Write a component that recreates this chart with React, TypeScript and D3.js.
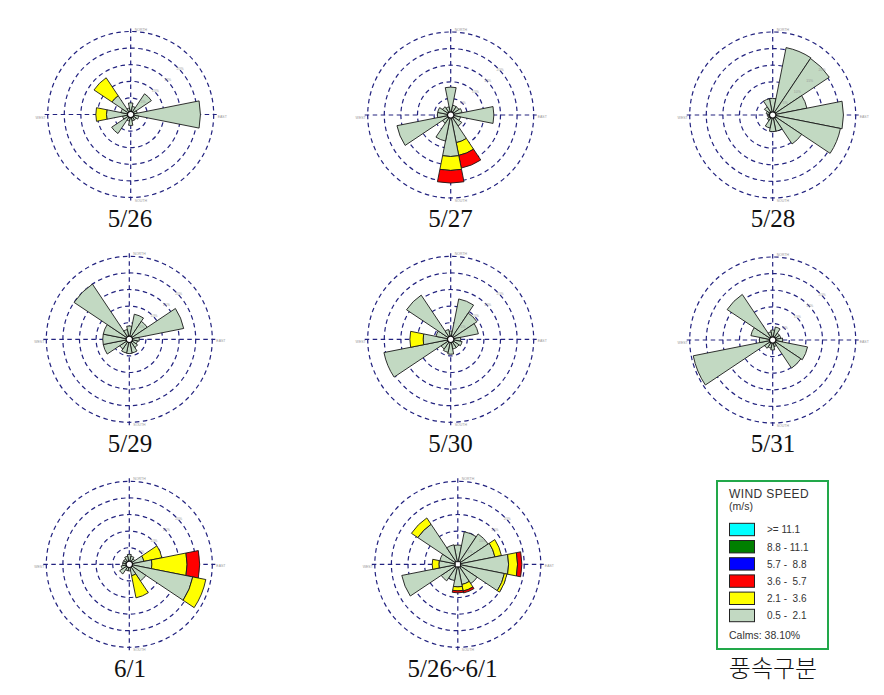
import React from "react";
import * as d3 from "d3";

// Direction order: N, NNE, NE, ENE, E, ESE, SE, SSE, S, SSW, SW, WSW, W, WNW, NW, NNW
const directions = ["N", "NNE", "NE", "ENE", "E", "ESE", "SE", "SSE", "S", "SSW", "SW", "WSW", "W", "WNW", "NW", "NNW"];

const speedClasses = [">= 11.1", "8.8 - 11.1", "5.7 -  8.8", "3.6 -  5.7", "2.1 -  3.6", "0.5 -  2.1"];
const speedColors = ["#00ffff", "#007f00", "#0000ff", "#ff0000", "#ffff00", "#c2d9c2"];
const calmsText = "Calms: 38.10%";
const ringValues = [5, 10, 15, 20, 25];
const ringLabels = ["5%", "10%", "15%", "20%", "25%"];
const axisNames = ["NORTH", "EAST", "SOUTH", "WEST"];

// frequencies (%) per direction for speed class 0.5-2.1 (low), 2.1-3.6 (mid), 3.6-5.7 (high)
const may26Low = [3.5, 2.5, 7.5, 2, 21, 2.5, 2, 2, 3.3, 2, 6.9, 2.5, 7.3, 3, 6.8, 2];
const may26Mid = [0, 0, 0, 0, 0, 0, 0, 0, 0, 0, 0, 0, 3.2, 0, 6.5, 0];
const may26High = [0, 0, 0, 0, 0, 0, 0, 0, 0, 0, 0, 0, 0, 0, 0, 0];

const may27Low = [8.4, 3, 3, 3.5, 13, 3, 4, 8.5, 12.5, 8, 3, 16.5, 4, 4, 3, 2.5];
const may27Mid = [0, 0, 0, 0, 0, 0, 0, 3.9, 4.2, 0, 0, 0, 0, 0, 0, 0];
const may27High = [0, 0, 0, 0, 0, 0, 0, 3.9, 3.8, 0, 0, 0, 0, 0, 0, 0];

const may28Low = [5, 20.7, 20.5, 10.5, 21.3, 20.8, 10.5, 5, 5, 4, 2, 1.5, 1.5, 2, 3, 5];
const may28Mid = [0, 0, 0, 0, 0, 0, 0, 0, 0, 0, 0, 0, 0, 0, 0, 0];
const may28High = [0, 0, 0, 0, 0, 0, 0, 0, 0, 0, 0, 0, 0, 0, 0, 0];

const may29Low = [4, 7.7, 6.5, 16.7, 3, 2.5, 3, 4.2, 4.3, 4.2, 3.5, 8, 8, 8, 20, 3];
const may29Mid = [0, 0, 0, 0, 0, 0, 0, 0, 0, 0, 0, 0, 0, 0, 0, 0];
const may29High = [0, 0, 0, 0, 0, 0, 0, 0, 0, 0, 0, 0, 0, 0, 0, 0];

const may30Low = [2.5, 12.4, 9.5, 8.5, 3, 3.5, 3, 3, 4.5, 4, 3.5, 20.5, 8.3, 4.5, 16, 3];
const may30Mid = [0, 0, 0, 0, 0, 0, 0, 0, 0, 0, 0, 0, 4, 0, 0, 0];
const may30High = [0, 0, 0, 0, 0, 0, 0, 0, 0, 0, 0, 0, 0, 0, 0, 0];

const may31Low = [3, 4, 2.5, 2.5, 3, 10.7, 10.2, 2, 3, 2.5, 3, 24.4, 4, 6.7, 16.5, 2.5];
const may31Mid = [0, 0, 0, 0, 0, 0, 0, 0, 0, 0, 0, 0, 0, 0, 0, 0];
const may31High = [0, 0, 0, 0, 0, 0, 0, 0, 0, 0, 0, 0, 0, 0, 0, 0];

const jun1Low = [3, 2.5, 2, 4.5, 6.8, 19.5, 6, 3.5, 2, 2, 3.5, 2.5, 2, 2, 2, 2.5];
const jun1Mid = [0, 0, 0, 5.5, 10.6, 4, 0, 6.8, 0, 0, 0, 0, 0, 0, 0, 0];
const jun1High = [0, 0, 0, 0, 3.8, 0, 0, 0, 0, 0, 0, 0, 0, 0, 0, 0];

const totalLow = [5.8, 10, 11, 11.4, 15.3, 14.3, 7, 6.2, 6.8, 5, 6, 17.2, 5.7, 5.5, 14.5, 6];
const totalMid = [0, 0, 0, 2, 2.7, 0.8, 0, 2, 1.2, 0, 0, 0, 2, 0, 2.3, 0];
const totalHigh = [0, 0, 0, 0, 1.3, 0, 0, 0.6, 0.6, 0, 0, 0, 0, 0, 0, 0];

const roseLabels = ["5/26", "5/27", "5/28", "5/29", "5/30", "5/31", "6/1", "5/26~6/1"];
const legendTitle = "풍속구분";

const roses = [
  { label: roseLabels[0], cx: 130.7, cy: 114.5, lx: 130, ly: 227, low: may26Low, mid: may26Mid, high: may26High, square: false },
  { label: roseLabels[1], cx: 450.7, cy: 115, lx: 450.5, ly: 227, low: may27Low, mid: may27Mid, high: may27High, square: false },
  { label: roseLabels[2], cx: 772.7, cy: 115, lx: 773, ly: 227, low: may28Low, mid: may28Mid, high: may28High, square: false },
  { label: roseLabels[3], cx: 129.3, cy: 339.3, lx: 130, ly: 452, low: may29Low, mid: may29Mid, high: may29High, square: false },
  { label: roseLabels[4], cx: 450.7, cy: 339.3, lx: 450.5, ly: 452, low: may30Low, mid: may30Mid, high: may30High, square: false },
  { label: roseLabels[5], cx: 772.7, cy: 340, lx: 773, ly: 452, low: may31Low, mid: may31Mid, high: may31High, square: false },
  { label: roseLabels[6], cx: 129.3, cy: 564.3, lx: 130, ly: 677, low: jun1Low, mid: jun1Mid, high: jun1High, square: false },
  { label: roseLabels[7], cx: 457.8, cy: 564.3, lx: 452.5, ly: 677, low: totalLow, mid: totalMid, high: totalHigh, square: true },
];

const R = 83;
const gridColor = "#22227f";

function Rose(props: any) {
  const { cx, cy, low, mid, high, square } = props;
  const r = d3.scaleLinear().domain([0, 25]).range([0, R]);
  const step = (2 * Math.PI) / directions.length;
  const arc = d3.arc<any>();
  const layerColors = [speedColors[5], speedColors[4], speedColors[3]];
  const petals: any[] = [];
  directions.forEach((dir, i) => {
    const vals = [low[i], mid[i], high[i]];
    let acc = 0;
    vals.forEach((v: number, k: number) => {
      if (v > 0) {
        const d = arc({
          innerRadius: r(acc),
          outerRadius: r(acc + v),
          startAngle: i * step - step / 2,
          endAngle: i * step + step / 2,
        });
        petals.push(
          <path key={dir + k} d={d || ""} fill={layerColors[k]} stroke="#1a1a1a" strokeWidth={0.9} strokeLinejoin="miter" />
        );
        acc += v;
      }
    });
  });
  const labelAngle = (48 * Math.PI) / 180;
  return (
    <g transform={`translate(${cx},${cy})`}>
      {ringValues.map((v) => (
        <circle key={v} r={r(v)} fill="none" stroke={gridColor} strokeWidth={1.2} strokeDasharray="4.5,3.5" />
      ))}
      <line x1={-R - 3} x2={R + 3} y1={0} y2={0} stroke={gridColor} strokeWidth={1.2} strokeDasharray="4.5,3.5" />
      <line x1={0} x2={0} y1={-R - 3} y2={R + 3} stroke={gridColor} strokeWidth={1.2} strokeDasharray="4.5,3.5" />
      {petals}
      {ringValues.slice(0, 4).map((v, i) => {
        const rr = r(v);
        const x = rr * Math.sin(labelAngle);
        const y = -rr * Math.cos(labelAngle);
        return (
          <text key={"rl" + v} x={x} y={y} fontSize={3.5} fill="#999" fontFamily="Liberation Sans, Arial, sans-serif" textAnchor="middle">
            {ringLabels[i]}
          </text>
        );
      })}
      <text x={4} y={-R - 1} fontSize={3.5} fill="#999" fontFamily="Liberation Sans, Arial, sans-serif">{axisNames[0]}</text>
      <text x={R + 4} y={3} fontSize={3.5} fill="#999" fontFamily="Liberation Sans, Arial, sans-serif">{axisNames[1]}</text>
      <text x={4} y={R + 4} fontSize={3.5} fill="#999" fontFamily="Liberation Sans, Arial, sans-serif">{axisNames[2]}</text>
      <text x={-R - 2} y={4} fontSize={3.5} fill="#999" fontFamily="Liberation Sans, Arial, sans-serif" textAnchor="end">{axisNames[3]}</text>
      {square ? (
        <rect x={-2.6} y={-2.6} width={5.2} height={5.2} fill="#fff" stroke="#111" strokeWidth={1} />
      ) : (
        <circle r={3.2} fill="#fff" stroke="#111" strokeWidth={1.2} />
      )}
    </g>
  );
}

function Legend() {
  const x0 = 717;
  const y0 = 481;
  const rowY = d3.range(speedClasses.length).map((i) => 523.3 + i * 17.2);
  return (
    <g>
      <rect x={x0} y={y0} width={111} height={168} fill="#fff" stroke="#22a84a" strokeWidth={2} />
      <text x={729} y={497.5} fontSize={12} letterSpacing={0.4} fill="#333" fontFamily="Liberation Sans, Arial, sans-serif">WIND SPEED</text>
      <text x={729} y={509.5} fontSize={10.5} fill="#333" fontFamily="Liberation Sans, Arial, sans-serif">(m/s)</text>
      {speedClasses.map((s, i) => (
        <g key={s}>
          <rect x={729.5} y={rowY[i]} width={25} height={12.4} fill={speedColors[i]} stroke="#222" strokeWidth={1} />
          <text x={767} y={rowY[i] + 10} fontSize={10} fill="#333" fontFamily="Liberation Sans, Arial, sans-serif" style={{ whiteSpace: "pre" }}>
            {s}
          </text>
        </g>
      ))}
      <text x={729} y={638.5} fontSize={10.5} fill="#333" fontFamily="Liberation Sans, Arial, sans-serif">{calmsText}</text>
      <text x={773} y={677} fontSize={24} textAnchor="middle" fill="#111" fontFamily="Noto Sans CJK KR, sans-serif" fontWeight={300}>
        {legendTitle}
      </text>
    </g>
  );
}

export default function App() {
  return (
    <svg width={884} height={695} style={{ position: "absolute", left: 0, top: 0, background: "#fff" }}>
      <rect width={884} height={695} fill="#fff" />
      {roses.map((rs) => (
        <g key={rs.label}>
          <Rose {...rs} />
          <text x={rs.lx} y={rs.ly} fontSize={25} textAnchor="middle" fill="#111" fontFamily="Liberation Serif, Times New Roman, serif">
            {rs.label}
          </text>
        </g>
      ))}
      <Legend />
    </svg>
  );
}
